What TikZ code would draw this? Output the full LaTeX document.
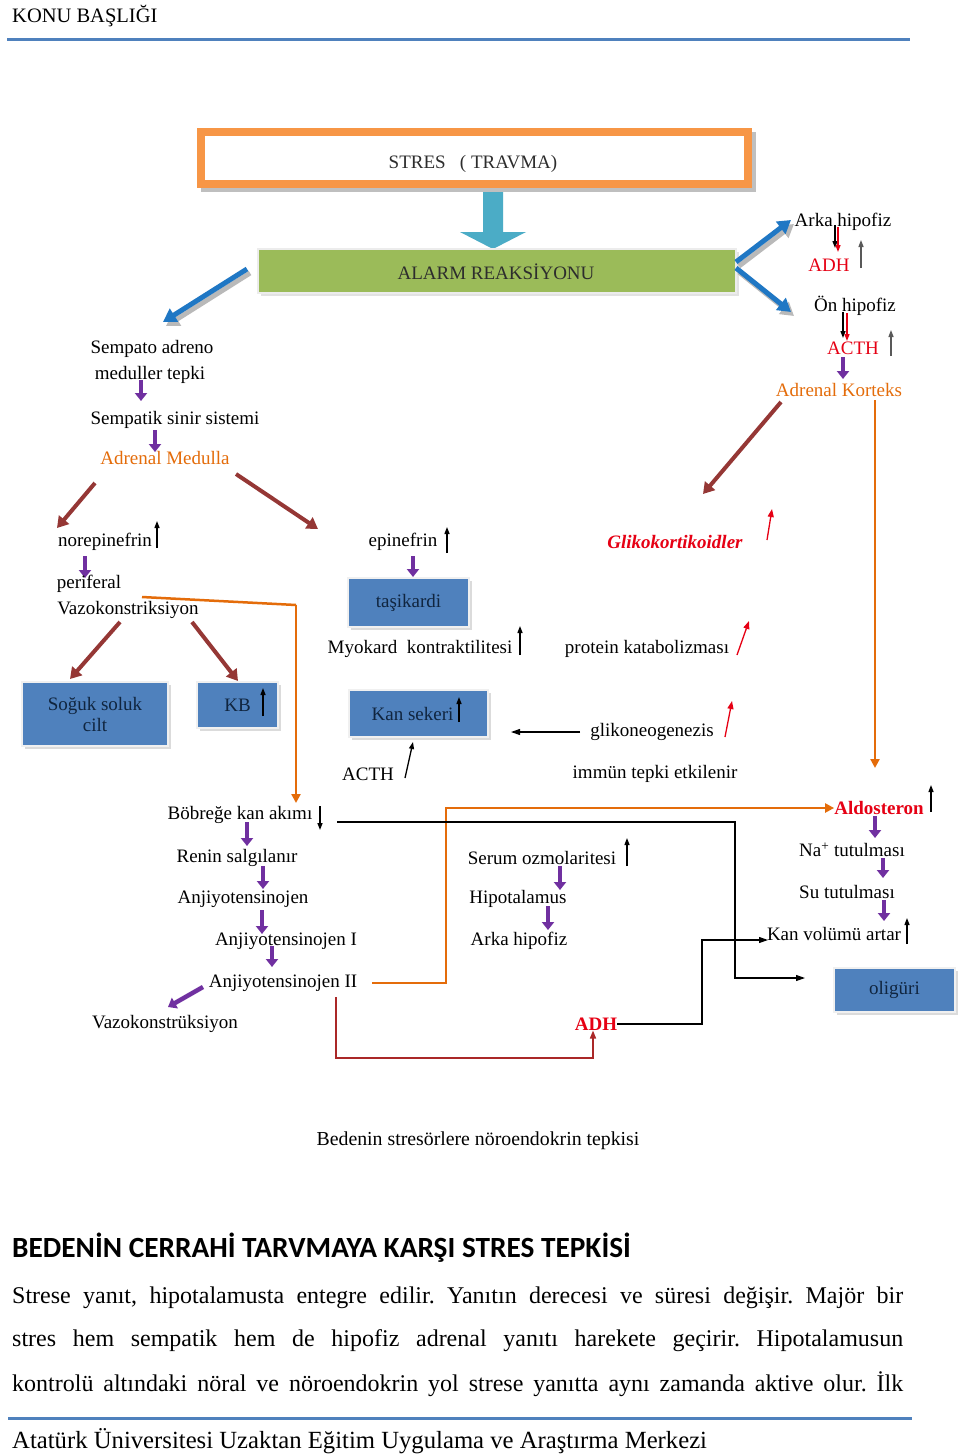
\documentclass[tikz,border=0pt]{standalone}
\usepackage{fontspec}
\setmainfont{Liberation Serif}
\newfontfamily\calib{Carlito}
\usetikzlibrary{arrows.meta,shadows}
\frenchspacing
\definecolor{hdrblue}{RGB}{79,129,189}
\definecolor{stresor}{RGB}{247,150,70}
\definecolor{teal}{RGB}{75,172,198}
\definecolor{alarmgreen}{RGB}{155,187,89}
\definecolor{bigblue}{RGB}{31,119,196}
\definecolor{brownarr}{RGB}{149,55,53}
\definecolor{purp}{RGB}{112,48,160}
\definecolor{boxblue}{RGB}{79,129,189}
\definecolor{boxtext}{RGB}{16,37,63}
\definecolor{orangetxt}{RGB}{228,108,10}
\definecolor{redtxt}{RGB}{230,0,20}
\definecolor{darkredline}{RGB}{170,40,40}
\definecolor{greytxt}{RGB}{45,45,45}
\tikzset{
  txt/.style={inner sep=0pt, font=\fontsize{19}{22}\selectfont, text=black, yshift=-2pt},
  ortxt/.style={txt, text=orangetxt},
  redb/.style={txt, text=redtxt, font=\fontsize{19}{22}\selectfont\bfseries},
  bbox/.style={draw=white!88!gray, line width=2.5pt, fill=boxblue, text=boxtext,
     font=\fontsize{19}{21}\selectfont, align=center, inner sep=0pt,
     drop shadow={shadow xshift=3pt, shadow yshift=-3pt, fill=gray!55}},
  purparr/.style={purp, line width=4.5pt, -{Triangle[width=12pt,length=8pt]}},
  brownarrow/.style={brownarr, line width=4pt, -{Triangle[width=13pt,length=11pt]}},
  bluearr/.style={bigblue, line width=5pt, -{Triangle[width=15pt,length=13pt]}},
  bluesh/.style={gray!55, line width=5pt, -{Triangle[width=15pt,length=13pt]}},
  uparr/.style={black, line width=1.3pt, -{Triangle[width=5pt,length=7pt]}},
  redup/.style={redtxt, line width=1.3pt, -{Triangle[width=6pt,length=8pt]}},
  orline/.style={orangetxt, line width=2.5pt},
  orarr/.style={orline, -{Triangle[width=9pt,length=9pt]}},
  blkline/.style={black, line width=1.1pt},
  blkarr/.style={blkline, -{Triangle[width=6pt,length=9pt]}},
}
\begin{document}
\begin{tikzpicture}[x=1pt,y=-1pt]
\useasboundingbox[fill=white] (0,0) rectangle (960,1454);

% header
\node[txt, anchor=west, font=\fontsize{20.5}{22}\selectfont] (hdr) at (12,14) {KONU BAŞLIĞI};
\coordinate (hl1) at (7,39); \coordinate (hl2) at (910,39);
\draw[hdrblue, line width=3pt] (hl1) -- (hl2);

% STRES box
\fill[gray!50] (201,132) rectangle (756,192);
\fill[white] (197,128) rectangle (752,188);
\draw[stresor, line width=8pt] (201,132) rectangle (748,184);
\node[txt, text=greytxt] (stres) at (473,162) {STRES\ \ \ ( TRAVMA)};

% teal block arrow
\fill[teal] (483,192) -- (503,192) -- (503,232) -- (526,232) -- (493,249) -- (460,232) -- (483,232) -- cycle;

% ALARM box
\node[draw=white!85!gray, line width=2.5pt, fill=alarmgreen, minimum width=478pt, minimum height=44pt,
  inner sep=0pt, drop shadow={shadow xshift=3pt, shadow yshift=-3pt, fill=gray!45}] (alarmbox) at (497,271) {};
\node[txt, text=greytxt] (alarm) at (496,270) {ALARM REAKSİYONU};

% blue arrows
\draw[bluesh] (250,273) -- (166,326);
\draw[bluearr] (247,269) -- (163,322);
\draw[bluesh] (739,266) -- (794,224);
\draw[bluearr] (736,262) -- (791,220);
\draw[bluesh] (739,272) -- (794,316);
\draw[bluearr] (736,268) -- (791,312);

% right column top
\node[txt] (arka1) at (843,220) {Arka hipofiz};
\node[txt, text=redtxt] (adh1) at (829,263) {ADH};
\node[txt] (on) at (855,304) {Ön hipofiz};
\node[txt, text=redtxt] (acth1) at (853,346) {ACTH};
\node[ortxt] (adk) at (839,388) {Adrenal Korteks};
\draw[uparr] (835,225) -- (835,248);
\draw[redup, -{Triangle[width=5pt,length=7pt]}] (838,227) -- (838,252);
\draw[uparr, gray!70!black] (861,268) -- (861,240);
\draw[uparr] (843,312) -- (843,338);
\draw[redup, -{Triangle[width=5pt,length=7pt]}] (847,313) -- (847,341);
\draw[uparr, gray!70!black] (891,356) -- (891,330);
\draw[purparr] (843,357) -- (843,379);

% left column top
\node[txt] (semp1) at (152,347) {Sempato adreno};
\node[txt] (semp2) at (150,373) {meduller tepki};
\node[txt] (sss) at (175,418) {Sempatik sinir sistemi};
\node[ortxt] (adm) at (165,456) {Adrenal Medulla};
\draw[purparr] (141,380) -- (141,401);
\draw[purparr] (155,430) -- (155,452);

\draw[brownarrow] (95,483) -- (57,528);
\draw[brownarrow] (236,474) -- (318,529);
\draw[brownarrow] (781,402) -- (703,494);

\node[txt] (nore) at (105,540) {norepinefrin};
\draw[uparr] (157,548) -- (157,521);
\draw[purparr] (85,556) -- (85,578);
\node[txt] (peri) at (89,582) {periferal};
\node[txt] (vazo) at (128,608) {Vazokonstriksiyon};

\draw[brownarrow] (120,622) -- (70,679);
\draw[brownarrow] (192,622) -- (238,681);

\node[bbox, minimum width=146pt, minimum height=64pt] (soguk) at (95,714) {Soğuk soluk\\cilt};
\node[bbox, minimum width=81pt, minimum height=46pt] (kb) at (237.5,705) {KB};
\draw[uparr] (263,716) -- (263,688);

% middle column
\node[txt] (epi) at (403,540) {epinefrin};
\draw[uparr] (447,553) -- (447,527);
\draw[purparr] (413,556) -- (413,577);
\node[bbox, minimum width=121pt, minimum height=49pt] (tasi) at (408.5,602.5) {taşikardi};
\node[txt] (myo) at (420,647) {Myokard\ \ kontraktilitesi};
\draw[uparr] (520,655) -- (520,626);
\node[bbox, minimum width=139pt, minimum height=47pt] (kan) at (418.5,713.5) {Kan sekeri\hspace{12pt}};
\draw[uparr] (459,722) -- (459,697);
\node[txt] (acth2) at (368,772) {ACTH};
\draw[uparr] (405,778) -- (413,742);

% glikokortikoid column
\node[txt, text=redtxt, font=\fontsize{19}{22}\selectfont\bfseries\itshape] (gliko) at (675,540) {Glikokortikoidler};
\draw[redup] (767,540) -- (772,509);
\node[txt] (prot) at (647,647) {protein katabolizması};
\draw[redup] (737,655) -- (749,621);
\node[txt] (gneo) at (652,730) {glikoneogenezis};
\draw[redup] (725,737) -- (732,701);
\node[txt] (immun) at (655,772) {immün tepki etkilenir};
\coordinate (kanarr) at (511,732);
\draw[blkarr] (580,732) -- (kanarr);

% orange connector from vazokonstriksiyon to bobrege
\node[txt] (bob) at (240,813) {Böbreğe kan akımı};
\draw[orline] (142,597) -- (296,605);
\draw[orarr] (296,605) -- (296,803);
\draw[uparr] (320,806) -- (320,830);

% renin chain
\node[txt] (renin) at (237,856) {Renin salgılanır};
\node[txt] (anj) at (243,897) {Anjiyotensinojen};
\node[txt] (anj1) at (286,939) {Anjiyotensinojen I};
\node[txt] (anj2) at (283,981) {Anjiyotensinojen II};
\node[txt] (vazo2) at (165,1022) {Vazokonstrüksiyon};
\draw[purparr] (247,822) -- (247,846);
\draw[purparr] (263,866) -- (263,889);
\draw[purparr] (262,910) -- (262,934);
\draw[purparr] (272,946) -- (272,967);
\draw[purparr] (203,987) -- (168,1007);

% serum chain
\node[txt] (serum) at (542,856) {Serum ozmolaritesi};
\draw[uparr] (627,866) -- (627,838);
\node[txt] (hipo) at (518,897) {Hipotalamus};
\node[txt] (arka2) at (519,939) {Arka hipofiz};
\draw[purparr] (560,866) -- (560,890);
\draw[purparr] (548,906) -- (548,930);
\node[redb] (adh2) at (596,1022) {ADH};

% aldosteron chain
\node[redb] (aldo) at (879,806) {Aldosteron};
\draw[uparr] (931,812) -- (931,785);
\node[txt] (na) at (852,848) {Na\textsuperscript{+} tutulması};
\node[txt] (su) at (847,890) {Su tutulması};
\node[txt] (kanv) at (834,932) {Kan volümü artar};
\draw[uparr] (907,944) -- (907,918);
\draw[purparr] (875,816) -- (875,838);
\draw[purparr] (883,858) -- (883,878);
\draw[purparr] (884,900) -- (884,921);
\node[bbox, minimum width=121pt, minimum height=44pt] (olig) at (894.5,990) {oligüri};

% Adrenal korteks to aldosteron
\draw[orarr] (875,400) -- (875,768);

% connectors bottom
\coordinate (kanvin) at (768,940);
\coordinate (oligin) at (805,978);
\draw[orarr] (372,983) -- (446,983) |- (aldo.west);
\draw[blkarr] (337,822) -- (735,822) -- (735,978) -- (oligin);
\draw[blkarr] (adh2.east) -| (702,940) -- (kanvin);
\draw[darkredline, line width=1.5pt, -{Triangle[width=6pt,length=8pt]}] (336,997) -- (336,1058) -- (593,1058) -- (adh2.south -| 593,0);

% caption
\node[txt, font=\fontsize{19.8}{22}\selectfont] (cap) at (478,1139) {Bedenin stresörlere nöroendokrin tepkisi};

% text below
\node[inner sep=0pt, anchor=west, font=\calib\bfseries\fontsize{29.3}{30}\selectfont] (head) at (12,1248) {BEDENİN CERRAHİ TARVMAYA KARŞI STRES TEPKİSİ};
\node[inner sep=0pt, anchor=west, font=\fontsize{24}{26}\selectfont] (p1) at (12,1298) {\makebox[891pt][s]{Strese yanıt, hipotalamusta entegre edilir. Yanıtın derecesi ve süresi değişir. Majör bir}};
\node[inner sep=0pt, anchor=west, font=\fontsize{24}{26}\selectfont] (p2) at (12,1341) {\makebox[891pt][s]{stres hem sempatik hem de hipofiz adrenal yanıtı harekete geçirir. Hipotalamusun}};
\node[inner sep=0pt, anchor=west, font=\fontsize{24}{26}\selectfont] (p3) at (12,1384) {\makebox[891pt][s]{kontrolü altındaki nöral ve nöroendokrin yol strese yanıtta aynı zamanda aktive olur. İlk}};
\coordinate (fl1) at (8,1418); \coordinate (fl2) at (912,1418);
\draw[hdrblue, line width=3pt] (fl1) -- (fl2);
\node[inner sep=0pt, anchor=west, font=\fontsize{24.7}{26}\selectfont] (foot) at (12,1441) {Atatürk Üniversitesi Uzaktan Eğitim Uygulama ve Araştırma Merkezi};
\end{tikzpicture}
\end{document}
